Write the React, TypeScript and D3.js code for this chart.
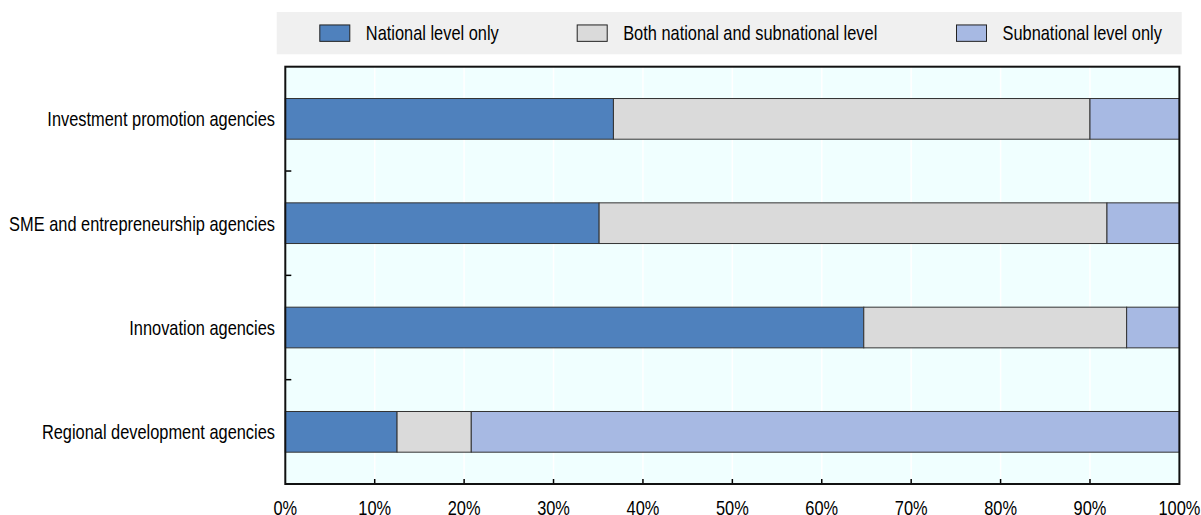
import React from "react";
import * as d3 from "d3";

// Agency types and the share of each by level of government (%)
const categories = [
  "Investment promotion agencies",
  "SME and entrepreneurship agencies",
  "Innovation agencies",
  "Regional development agencies",
];
const nationalOnly = [36.7, 35.1, 64.7, 12.5];
const bothLevels = [53.3, 56.8, 29.4, 8.3];
const subnationalOnly = [10.0, 8.1, 5.9, 79.2];

const seriesNames = [
  "National level only",
  "Both national and subnational level",
  "Subnational level only",
];
const seriesColors = ["#4F81BD", "#DADADA", "#A7B9E3"];
const xTicks = [0, 10, 20, 30, 40, 50, 60, 70, 80, 90, 100];

const W = 1201;
const H = 515;
const FONT = "'Liberation Sans', Arial, sans-serif";
const NARROW = 0.82; // horizontal squeeze giving a condensed Arial look

// Text drawn in a condensed face: a regular face squeezed horizontally
function NText({
  x,
  y,
  anchor = "start",
  children,
}: {
  x: number;
  y: number;
  anchor?: "start" | "middle" | "end";
  children: React.ReactNode;
}) {
  return (
    <g transform={`translate(${x},${y}) scale(${NARROW},1)`}>
      <text x={0} y={0} textAnchor={anchor} fontSize={20} fill="#000">
        {children}
      </text>
    </g>
  );
}

export default function App() {
  const plot = { left: 285.3, right: 1179.4, top: 66.7, bottom: 484 };

  const x = d3.scaleLinear().domain([0, 100]).range([plot.left, plot.right]);
  const y = d3
    .scaleBand<string>()
    .domain(categories)
    .range([plot.top, plot.bottom])
    .paddingInner(0.61)
    .paddingOuter(0.305);

  const rows = categories.map((c, i) => ({
    category: c,
    national: nationalOnly[i],
    both: bothLevels[i],
    sub: subnationalOnly[i],
  }));
  const stack = d3.stack<any>().keys(["national", "both", "sub"])(rows);

  const step = y.step();
  const boundaries = categories
    .slice(1)
    .map((c) => (y(c) as number) - (step - y.bandwidth()) / 2);

  // legend layout
  const legend = { left: 276.7, top: 12, bottom: 54.3, right: 1181.7 };
  const legendItemX = [319.3, 576.7, 956];
  const swW = 31;
  const swH = 17.4;
  const legendMid = (legend.top + legend.bottom) / 2;

  return (
    <svg
      width={W}
      height={H}
      style={{ position: "absolute", left: 0, top: 0, background: "#fff" }}
      fontFamily={FONT}
    >
      {/* legend */}
      <rect
        x={legend.left}
        y={legend.top}
        width={legend.right - legend.left}
        height={legend.bottom - legend.top}
        fill="#F0F0F0"
      />
      {seriesNames.map((name, i) => (
        <g key={name}>
          <rect
            x={legendItemX[i] + 0.5}
            y={legendMid - swH / 2 + 0.5}
            width={swW - 1}
            height={swH - 1}
            fill={seriesColors[i]}
            stroke="#222"
            strokeWidth={1}
          />
          <NText x={legendItemX[i] + swW + 15.5} y={legendMid + 7}>
            {name}
          </NText>
        </g>
      ))}

      {/* plot background */}
      <rect
        x={plot.left}
        y={plot.top}
        width={plot.right - plot.left}
        height={plot.bottom - plot.top}
        fill="#F0FFFF"
      />
      {/* vertical gridlines */}
      {xTicks.slice(1, -1).map((t) => (
        <line
          key={t}
          x1={x(t)}
          x2={x(t)}
          y1={plot.top}
          y2={plot.bottom}
          stroke="#FFFFFF"
          strokeWidth={1.5}
        />
      ))}

      {/* stacked bars */}
      {stack.map((layer, si) =>
        layer.map((d, i) => (
          <rect
            key={`${si}-${i}`}
            x={x(d[0])}
            y={y(categories[i])}
            width={x(d[1]) - x(d[0])}
            height={y.bandwidth()}
            fill={seriesColors[si]}
            stroke="#333"
            strokeWidth={1}
          />
        ))
      )}

      {/* x ticks (inside) */}
      {xTicks.slice(1, -1).map((t) => (
        <line
          key={t}
          x1={x(t)}
          x2={x(t)}
          y1={plot.bottom}
          y2={plot.bottom - 5}
          stroke="#000"
          strokeWidth={1.5}
        />
      ))}
      {/* y ticks between categories */}
      {boundaries.map((b, i) => (
        <line
          key={i}
          x1={plot.left}
          x2={plot.left + 6}
          y1={b}
          y2={b}
          stroke="#000"
          strokeWidth={1.5}
        />
      ))}

      {/* frame */}
      <rect
        x={plot.left}
        y={plot.top}
        width={plot.right - plot.left}
        height={plot.bottom - plot.top}
        fill="none"
        stroke="#111"
        strokeWidth={2}
      />

      {/* category labels */}
      {categories.map((c) => (
        <NText
          key={c}
          x={275}
          y={(y(c) as number) + y.bandwidth() / 2 + 7.5}
          anchor="end"
        >
          {c}
        </NText>
      ))}

      {/* x tick labels */}
      {xTicks.map((t) => (
        <NText key={t} x={x(t)} y={515} anchor="middle">
          {`${t}%`}
        </NText>
      ))}
    </svg>
  );
}
